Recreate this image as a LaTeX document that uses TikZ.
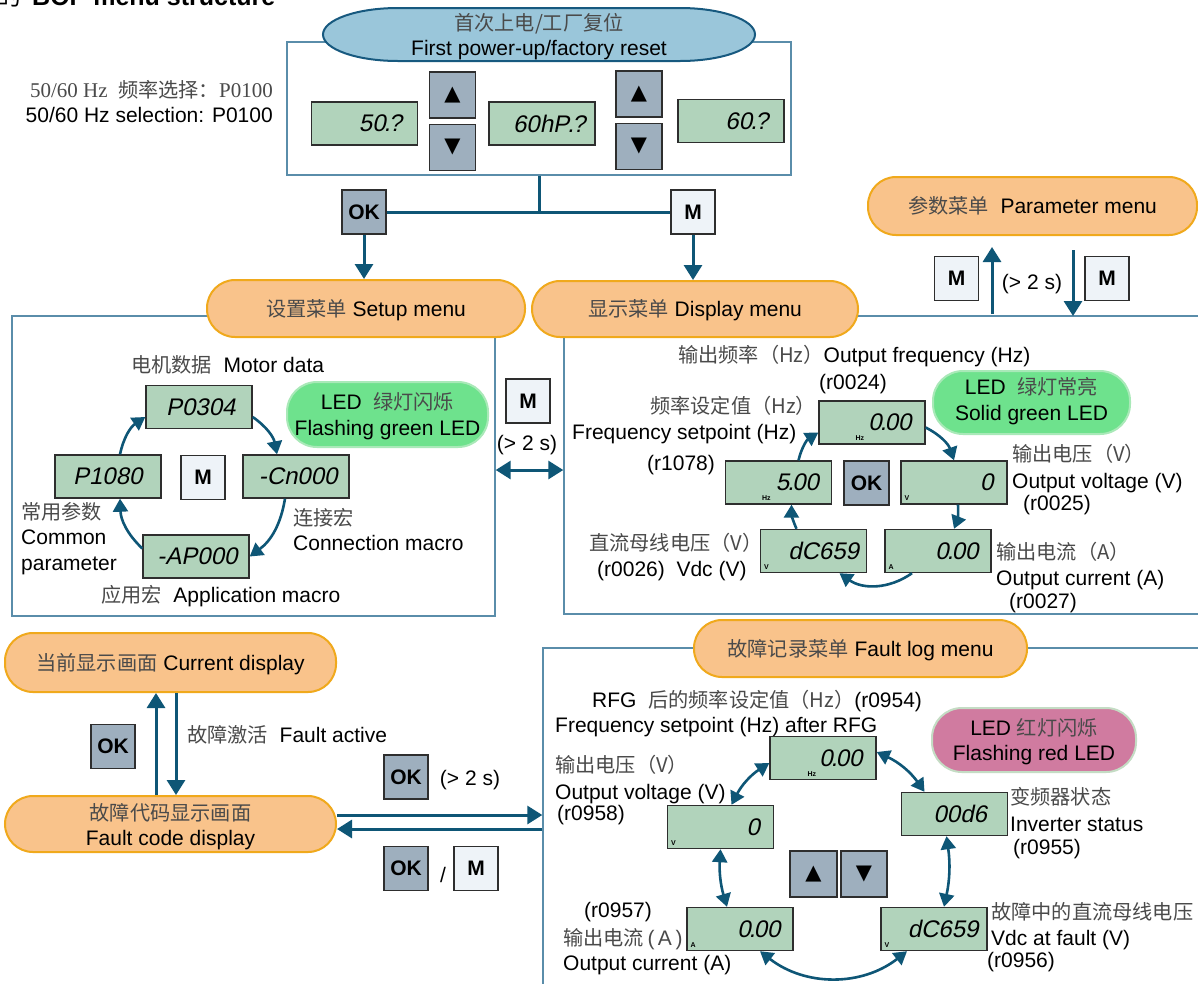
\documentclass[tikz,border=0pt]{standalone}
\usepackage{fontspec}
\setmainfont{Liberation Sans}
\newfontfamily\cjk{Noto Sans CJK SC}
\newfontfamily\gserif{Liberation Serif}
\newfontfamily\lcdfont[FakeSlant=0.2]{Liberation Sans}
\newfontfamily\symfont{DejaVu Sans}
\usetikzlibrary{arrows.meta,calc}

\definecolor{framec}{HTML}{5A8DAA}
\definecolor{arrowc}{HTML}{0E5676}
\definecolor{lcdfill}{HTML}{B1D3BB}
\definecolor{lcdborder}{HTML}{2E2E2E}
\definecolor{btndark}{HTML}{9EAFBE}
\definecolor{btnlight}{HTML}{EEF3F8}
\definecolor{pillfill}{HTML}{F9C38B}
\definecolor{pillborder}{HTML}{F0A91C}
\definecolor{ledgreen}{HTML}{6EE28D}
\definecolor{ledgreenb}{HTML}{A9E9B8}
\definecolor{ledred}{HTML}{D07BA0}
\definecolor{ledredb}{HTML}{C4DCC4}
\definecolor{ellfill}{HTML}{9AC6DA}
\definecolor{ellborder}{HTML}{17597F}
\definecolor{zhgray}{HTML}{4A4A4A}

\newcommand\zh[1]{{\cjk\fontsize{20.2}{24}\selectfont\color{zhgray}#1}}
\newcommand\lcddot{\makebox[3pt][c]{.}}

\tikzset{
  lbl/.style={inner sep=0pt, text height=15pt, text depth=0pt, font=\fontsize{21}{24}\selectfont},
  boxframe/.style={draw=framec, line width=1.4pt, inner sep=0pt},
  pill/.style={draw=pillborder, fill=pillfill, line width=2pt, rounded corners=28pt,
    inner sep=0pt, text height=15pt, text depth=0pt, font=\fontsize{21}{24}\selectfont},
  ledpill/.style={line width=2pt, rounded corners=30pt, inner sep=0pt},
  lcdbox/.style={draw=lcdborder, fill=lcdfill, line width=1.4pt, minimum width=106pt,
    minimum height=43pt, inner sep=0pt},
  lcdtxt/.style={font=\fontsize{24}{24}\lcdfont, inner sep=0pt, anchor=east},
  unitlbl/.style={font=\fontsize{7}{7}\selectfont\bfseries, inner sep=0pt, anchor=south west},
  btn/.style={draw=lcdborder, line width=1.4pt, minimum width=44pt, minimum height=44pt,
    inner sep=0pt, font=\fontsize{21}{21}\selectfont\bfseries},
  okbtn/.style={btn, fill=btndark},
  mbtn/.style={btn, fill=btnlight},
  arrbtn/.style={btn, fill=btndark, minimum width=46pt, minimum height=46pt,
    font=\fontsize{21}{21}\symfont},
  conn/.style={draw=arrowc, line width=3pt},
  arr/.style={draw=arrowc, line width=3pt, -{Triangle[width=18pt,length=15pt]}},
  darr/.style={draw=arrowc, line width=3pt, {Triangle[width=18pt,length=15pt]}-{Triangle[width=18pt,length=15pt]}},
  ring/.style={draw=arrowc, line width=2.6pt, -{Triangle[width=15pt,length=13pt]}},
  ringd/.style={draw=arrowc, line width=2.6pt, {Triangle[width=15pt,length=13pt]}-{Triangle[width=15pt,length=13pt]}},
}

% LCD display: name, x, y, reading, right padding
\newcommand\lcd[5]{%
  \node[lcdbox] (#1) at (#2,#3) {};
  \node[lcdtxt] (#1t) at ($(#1.east)+(-#5,0)$) {#4};
}

\begin{document}
\begin{tikzpicture}[x=1pt,y=-1pt]
\useasboundingbox (0,0) rectangle (1198,983);
\fill[white] (0,0) rectangle (1198,983);

% heading (cut by the page edge)
\node[font=\fontsize{25}{25}\selectfont\bfseries, anchor=base west, inner sep=0pt] (title) at (32,5) {BOP menu structure};
\node[font=\fontsize{25}{25}\cjk, anchor=base east, inner sep=0pt] (titlezh) at (22,5) {的};

% ---------- first power-up / factory reset ----------
\node[boxframe, minimum width=504pt, minimum height=133pt] (topframe) at (539,108.5) {};
\draw[draw=ellborder, fill=ellfill, line width=2pt]
  (398,8) -- (680,8) arc[start angle=-90, end angle=90, x radius=75, y radius=26.5]
  -- (398,61) arc[start angle=90, end angle=270, x radius=75, y radius=26.5] -- cycle;
\node[lbl] (fr1) at (539,23) {\zh{首次上电/工厂复位}};
\node[lbl] (fr2) at (539,48) {First power-up/factory reset};

\node[lbl, anchor=east] (sel1) at (273,90) {\color{zhgray}\gserif 50/60 Hz\ \ {\cjk\fontsize{20.2}{24}\selectfont 频率选择：}P0100};
\node[lbl, anchor=east] (sel2) at (273,115) {50/60 Hz selection: P0100};

\lcd{s50}{364.5}{123.5}{50\lcddot?}{16}
\lcd{s60hp}{542}{123.5}{60hP\lcddot?}{10}
\lcd{s60}{731}{121}{60\lcddot?}{16}
\node[arrbtn] (up1) at (452.5,95) {▲};
\node[arrbtn] (dn1) at (452.5,147.5) {▼};
\node[arrbtn] (up2) at (639,94) {▲};
\node[arrbtn] (dn2) at (639,146.5) {▼};

\node[okbtn] (okA) at (364,212) {OK};
\node[mbtn] (mA) at (693,212) {M};
\coordinate (junc) at (539,212);
\draw[conn] (topframe.south) -- (junc);
\draw[conn] (okA.east) -- (mA.west);

% ---------- frames ----------
\node[boxframe, minimum width=483pt, minimum height=300pt] (setupframe) at (253.5,466) {};
\node[boxframe, minimum width=651pt, minimum height=298pt] (dispframe) at (889.5,465) {};
\node[boxframe, minimum width=672pt, minimum height=352pt] (faultframe) at (879,824) {};

% ---------- menu pills ----------
\node[pill, minimum width=318pt, minimum height=57pt] (setup) at (366,308.5) {\zh{设置菜单} Setup menu};
\node[pill, minimum width=326pt, minimum height=56pt] (display) at (695,309) {\zh{显示菜单} Display menu};
\node[pill, minimum width=329pt, minimum height=58pt] (param) at (1032.5,206) {\zh{参数菜单}\ \ Parameter menu};
\draw[arr] (okA.south) -- (okA.south |- setup.north);
\draw[arr] (mA.south) -- (mA.south |- display.north);

% parameter menu access
\coordinate (pu0) at (992,314);
\coordinate (pu1) at (992,247);
\coordinate (pd0) at (1073,250);
\coordinate (pd1) at (1073,316);
\draw[arr] (pu0) -- (pu1);
\draw[arr] (pd0) -- (pd1);
\node[mbtn] (mP1) at (956.5,278.5) {M};
\node[mbtn] (mP2) at (1107,278.5) {M};
\node[lbl] (p2s) at (1032,282) {(> 2 s)};

% setup <-> display
\node[mbtn] (mMid) at (528,401) {M};
\node[lbl] (mid2s) at (527,443) {(> 2 s)};
\coordinate (midy) at (0,470);
\draw[darr] (setupframe.east |- midy) -- (dispframe.west |- midy);

% ---------- setup menu ----------
\node[lbl, anchor=west] (motor) at (131,365) {\zh{电机数据}\ \ Motor data};
\lcd{p0304}{199}{407}{P0304}{17}
\lcd{p1080}{108}{476.5}{P1080}{19}
\lcd{cn}{296}{476.5}{-Cn000}{12}
\lcd{ap}{196}{556.5}{-AP000}{12}
\node[mbtn] (mSet) at (203,477.5) {M};
\node[ledpill, draw=ledgreenb, fill=ledgreen, minimum width=201pt, minimum height=65pt] (ledS) at (387.5,414.5) {};
\node[lbl] (ledS1) at (387.5,402) {LED\ \ \zh{绿灯闪烁}};
\node[lbl] (ledS2) at (387.5,428) {Flashing green LED};
\node[lbl, anchor=west] (common1) at (21,512) {\zh{常用参数}};
\node[lbl, anchor=west] (common2) at (21,537) {Common};
\node[lbl, anchor=west] (common3) at (21,563) {parameter};
\node[lbl, anchor=west] (conn1) at (293,518) {\zh{连接宏}};
\node[lbl, anchor=west] (conn2) at (293,543) {Connection macro};
\node[lbl, anchor=west] (appm) at (101,595) {\zh{应用宏}\ \ Application macro};
\draw[ring] ($(p0304.east)+(0,10)$) to[bend left=22] ($(cn.north)+(-19,0)$);
\draw[ring] ($(cn.south)+(-11,0)$) to[bend left=22] (ap.east);
\draw[ring] ($(ap.west)+(0,-8)$) to[bend left=22] ($(p1080.south)+(12,0)$);
\draw[ring] ($(p1080.north)+(12,0)$) to[bend left=22] ($(p0304.west)+(0,10)$);

% ---------- display menu ----------
\node[lbl, anchor=west] (ofq) at (678,355) {\zh{输出频率（Hz）}Output frequency (Hz)};
\node[lbl] (r24l) at (853,382) {(r0024)};
\node[ledpill, draw=ledgreenb, fill=ledgreen, minimum width=197pt, minimum height=63pt] (ledD) at (1031.5,402.5) {};
\node[lbl] (ledD1) at (1031.5,387) {LED\ \ \zh{绿灯常亮}};
\node[lbl] (ledD2) at (1031.5,413) {Solid green LED};
\node[lbl, anchor=west] (fs1) at (650,406) {\zh{频率设定值（Hz）}};
\node[lbl, anchor=west] (fs2) at (572,432) {Frequency setpoint (Hz)};
\node[lbl, anchor=west] (r78l) at (647,463) {(r1078)};
\lcd{r24}{872}{422.5}{0\lcddot00}{14}
\lcd{r78}{778.5}{482.5}{5\lcddot00}{13}
\lcd{r25}{954}{482.5}{0}{14}
\lcd{dc}{813.5}{551}{dC659}{8}
\lcd{r27}{938}{551}{0\lcddot00}{13}
\node[unitlbl] (r24u) at ($(r24.south west)+(37,-4)$) {Hz};
\node[unitlbl] (r78u) at ($(r78.south west)+(37,-4)$) {Hz};
\node[unitlbl] (r25u) at ($(r25.south west)+(4,-4)$) {V};
\node[unitlbl] (dcu) at ($(dc.south west)+(4,-4)$) {V};
\node[unitlbl] (r27u) at ($(r27.south west)+(4,-4)$) {A};
\node[okbtn, minimum width=45pt] (okD) at (866.5,483) {OK};
\node[lbl, anchor=west] (ov1) at (1012,454) {\zh{输出电压（V）}};
\node[lbl, anchor=west] (ov2) at (1012,481) {Output voltage (V)};
\node[lbl, anchor=west] (ov3) at (1023,503) {(r0025)};
\node[lbl, anchor=west] (vdc1) at (589,543) {\zh{直流母线电压（V）}};
\node[lbl, anchor=west] (vdc2) at (597,569) {(r0026)\ \ Vdc (V)};
\node[lbl, anchor=west] (oc1) at (996,552) {\zh{输出电流（A）}};
\node[lbl, anchor=west] (oc2) at (996,578) {Output current (A)};
\node[lbl, anchor=west] (oc3) at (1009,601) {(r0027)};
\draw[ring] ($(r24.east)+(0,5)$) to[bend left=22] (r25.north);
\draw[ring] ($(r25.south)+(4,0)$) to[bend left=12] ($(r27.north)+(16,0)$);
\draw[ring] ($(r27.south)+(-26,0)$) to[bend left=35] ($(dc.south)+(26,0)$);
\draw[ring] ($(dc.north)+(-17,0)$) to[bend left=12] ($(r78.south)+(13,0)$);
\draw[ring] ($(r78.north)+(20,0)$) to[bend left=22] ($(r24.west)+(0,10)$);

% ---------- current display / fault ----------
\node[pill, minimum width=331pt, minimum height=59pt] (curdisp) at (170.5,662.5) {\zh{当前显示画面} Current display};
\node[pill, minimum width=331pt, minimum height=56pt] (faultcode) at (170.5,824) {};
\node[lbl] (fc1) at (170.5,813) {\zh{故障代码显示画面}};
\node[lbl] (fc2) at (170.5,838) {Fault code display};
\coordinate (upx) at (156,0);
\coordinate (dnx) at (176,0);
\draw[arr] (faultcode.north -| upx) -- (curdisp.south -| upx);
\draw[arr] (curdisp.south -| dnx) -- (faultcode.north -| dnx);
\node[okbtn] (okF1) at (113,746.5) {OK};
\node[lbl, anchor=west] (factive) at (187,735) {\zh{故障激活}\ \ Fault active};
\node[okbtn] (okF2) at (406,777) {OK};
\node[lbl] (f2s) at (470,778) {(> 2 s)};
\coordinate (ry) at (0,815);
\coordinate (ly) at (0,829);
\draw[arr] (faultcode.east |- ry) -- (faultframe.west |- ry);
\draw[arr] (faultframe.west |- ly) -- (faultcode.east |- ly);
\node[okbtn] (okF3) at (406,868.5) {OK};
\node[lbl] (slash) at (443,875) {/};
\node[mbtn] (mF) at (476,868.5) {M};

% ---------- fault log menu ----------
\node[pill, minimum width=333pt, minimum height=57pt] (faultlog) at (860.5,648.5) {\zh{故障记录菜单} Fault log menu};
\node[lbl, anchor=west] (rfg1) at (592,700) {RFG\ \ \zh{后的频率设定值（Hz）}(r0954)};
\node[lbl, anchor=west] (rfg2) at (555,725) {Frequency setpoint (Hz) after RFG};
\node[ledpill, draw=ledredb, fill=ledred, minimum width=204pt, minimum height=64pt] (ledF) at (1034,740) {};
\node[lbl] (ledF1) at (1034,728) {LED \zh{红灯闪烁}};
\node[lbl] (ledF2) at (1034,753) {Flashing red LED};
\lcd{r54}{823}{758}{0\lcddot00}{14}
\lcd{r58}{720.5}{827}{0}{14}
\lcd{d6}{954.5}{814}{00d6}{21}
\lcd{r57}{740}{929}{0\lcddot00}{13}
\lcd{fdc}{934}{929}{dC659}{9}
\node[unitlbl] (r54u) at ($(r54.south west)+(38,-4)$) {Hz};
\node[unitlbl] (r58u) at ($(r58.south west)+(4,-4)$) {V};
\node[unitlbl] (r57u) at ($(r57.south west)+(4,-4)$) {A};
\node[unitlbl] (fdcu) at ($(fdc.south west)+(4,-4)$) {V};
\node[arrbtn, minimum width=47pt] (upF) at (813.5,874) {▲};
\node[arrbtn] (dnF) at (864,874) {▼};
\node[lbl, anchor=west] (fov1) at (555,765) {\zh{输出电压（V）}};
\node[lbl, anchor=west] (fov2) at (555,792) {Output voltage (V)};
\node[lbl, anchor=west] (fov3) at (557,813) {(r0958)};
\node[lbl, anchor=west] (inv1) at (1010,797) {\zh{变频器状态}};
\node[lbl, anchor=west] (inv2) at (1010,824) {Inverter status};
\node[lbl, anchor=west] (inv3) at (1013,847) {(r0955)};
\node[lbl, anchor=west] (foc1) at (584,910) {(r0957)};
\node[lbl, anchor=west] (foc2) at (563,938) {\zh{输出电流}{\color{zhgray}\,(\,A\,)}};
\node[lbl, anchor=west] (foc3) at (563,963) {Output current (A)};
\node[lbl, anchor=west] (fvd1) at (991,912) {\zh{故障中的直流母线电压}};
\node[lbl, anchor=west] (fvd2) at (991,938) {Vdc at fault (V)};
\node[lbl, anchor=west] (fvd3) at (987,960) {(r0956)};
\draw[ringd] ($(r58.north)+(11,0)$) to[bend left=15] ($(r54.west)+(0,5)$);
\draw[ringd] ($(r54.east)+(0,-6)$) to[bend left=15] ($(d6.north)+(-30,0)$);
\draw[ringd] ($(d6.south)+(-8,0)$) to[bend left=10] ($(fdc.north)+(10,0)$);
\draw[ringd] ($(fdc.south)+(-27,0)$) to[bend left=38] ($(r57.south)+(20,0)$);
\draw[ringd] ($(r57.north)+(-13,0)$) to[bend left=10] (r58.south);
\end{tikzpicture}
\end{document}
